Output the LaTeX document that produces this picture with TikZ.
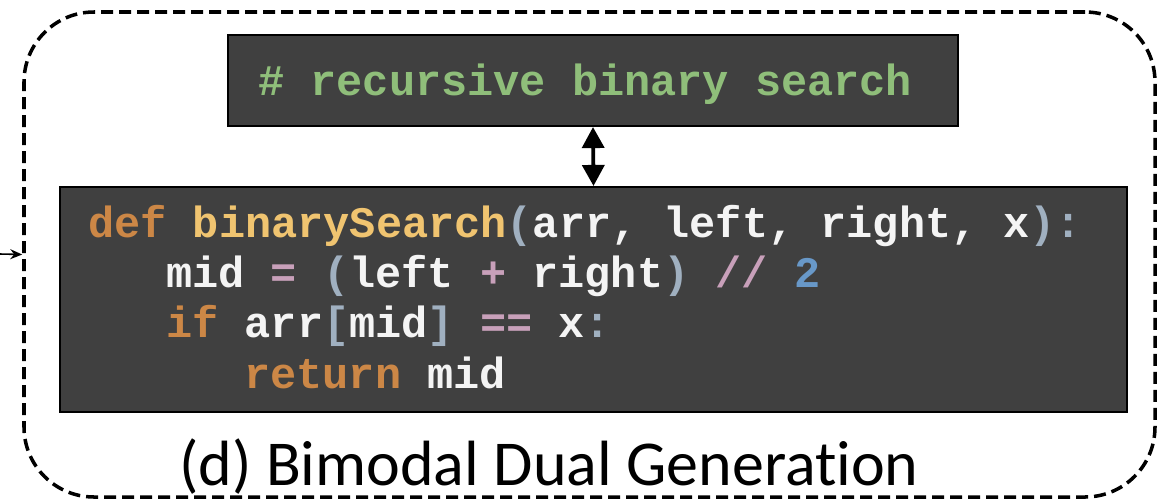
\documentclass[tikz,border=0pt]{standalone}
\usepackage{fontspec}
\setmainfont{Carlito}[Ligatures=NoCommon]
\newfontfamily\codefont{Liberation Mono}
\usetikzlibrary{arrows.meta}

\definecolor{boxgray}{RGB}{64,64,64}
\definecolor{kwcol}{RGB}{204,135,70}
\definecolor{fncol}{RGB}{240,196,112}
\definecolor{pncol}{RGB}{160,176,192}
\definecolor{opcol}{RGB}{200,160,186}
\definecolor{numcol}{RGB}{104,152,200}
\definecolor{comcol}{RGB}{143,190,122}
\definecolor{txtcol}{RGB}{244,244,244}

% token colours for the code lines
\newcommand{\ckw}[1]{\textcolor{kwcol}{#1}}
\newcommand{\cfn}[1]{\textcolor{fncol}{#1}}
\newcommand{\cpn}[1]{\textcolor{pncol}{#1}}
\newcommand{\cop}[1]{\textcolor{opcol}{#1}}
\newcommand{\cnum}[1]{\textcolor{numcol}{#1}}

\tikzset{
  codebox/.style={draw=black,line width=1.2pt,fill=boxgray,rectangle,inner sep=0pt},
  codeline/.style={anchor=base west,inner sep=0pt,text=txtcol,font=\codefont\bfseries\fontsize{24.8}{30}\selectfont},
}

\begin{document}
\begin{tikzpicture}
  \useasboundingbox (0,0) rectangle (23.4,-9.98);
  % dashed frame
  \node (frame) at (11.79,-5.09) [draw,dashed,dash pattern=on 0.24cm off 0.12cm,line width=2pt,rounded corners=1.4cm,minimum width=22.62cm,minimum height=9.7cm] {};
  \coordinate (feed) at (0,-5.08);
  \draw[line width=0.9pt,-{Stealth[length=0.24cm,width=0.2cm]}] (feed)--(frame.west);

  \node (query) at (11.86,-1.61) [codebox,minimum width=14.6cm,minimum height=1.82cm] {};
  \node (com) at (5.16,-1.9) [codeline,text=comcol] {\# recursive binary search};

  \node (codeblk) at (11.87,-5.99) [codebox,minimum width=21.34cm,minimum height=4.5cm] {};
  \node (l1) at (1.76,-4.74) [codeline] {\ckw{def} \cfn{binarySearch}\cpn{(}arr, left, right, x\cpn{):}};
  \node (l2) at (3.32,-5.74) [codeline] {mid \cop{=} \cpn{(}left \cop{+} right\cpn{)} \cop{//} \cnum{2}};
  \node (l3) at (3.32,-6.74) [codeline] {\ckw{if} arr\cpn{[}mid\cpn{]} \cop{==} x\cpn{:}};
  \node (l4) at (4.88,-7.76) [codeline] {\ckw{return} mid};

  \draw[line width=2.2pt,{Triangle[length=0.42cm,width=0.44cm]}-{Triangle[length=0.42cm,width=0.44cm]}] (query.south)--(codeblk.north);

  \node (caption) at (10.98,-9.7) [anchor=base,font=\fontsize{36.4}{40}\selectfont] {(d) Bimodal Dual Generation};
\end{tikzpicture}
\end{document}
